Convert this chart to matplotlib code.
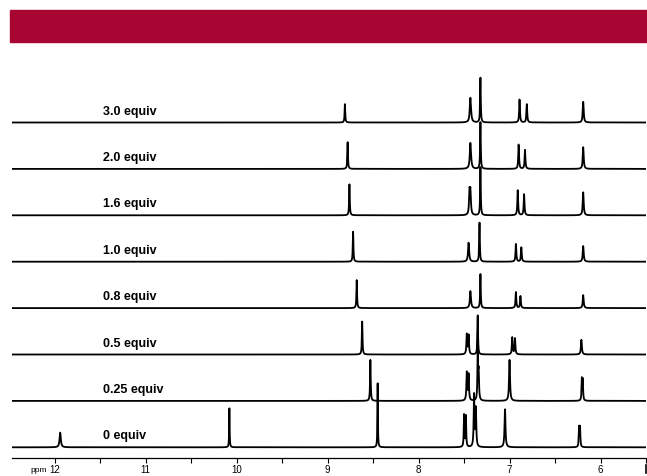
import numpy as np
import matplotlib.pyplot as plt
from matplotlib.patches import Rectangle
from matplotlib.lines import Line2D

# titration steps, bottom spectrum first
labels = ['0 equiv', '0.25 equiv', '0.5 equiv', '0.8 equiv',
          '1.0 equiv', '1.6 equiv', '2.0 equiv', '3.0 equiv']

# peak positions (ppm) for each spectrum
shifts = [
    [11.94, 10.08, 8.45, 7.50, 7.48, 7.39, 7.37, 7.05, 6.235, 6.225],
    [8.53, 7.47, 7.45, 7.35, 7.34, 7.00, 6.205, 6.195],
    [8.62, 7.47, 7.45, 7.35, 6.97, 6.94, 6.21],
    [8.68, 7.43, 7.32, 6.93, 6.88, 6.19],
    [8.72, 7.45, 7.33, 6.93, 6.87, 6.19],
    [8.76, 7.44, 7.43, 7.32, 6.91, 6.84, 6.19],
    [8.78, 7.43, 7.32, 6.90, 6.83, 6.19],
    [8.81, 7.43, 7.32, 6.89, 6.81, 6.19],
]
# peak intensities (arb. units)
heights = [
    [14.7, 39, 64, 32, 31, 52, 38, 38, 19, 19],
    [41, 28, 26, 48, 28, 41, 21, 20],
    [33, 20, 19, 39, 17, 16, 14.7],
    [28, 17, 34, 16, 12, 13],
    [30, 19, 39, 17.7, 14.3, 15.7],
    [31, 22, 22, 48, 25, 21, 23],
    [26.7, 26, 46.7, 24.3, 19, 21.7],
    [18.4, 24.7, 44.7, 23, 18.3, 20.7],
]
# half widths (ppm)
widths = [
    [0.008, 0.003, 0.003, 0.004, 0.004, 0.005, 0.005, 0.006, 0.004, 0.004],
    [0.004, 0.005, 0.005, 0.004, 0.005, 0.006, 0.004, 0.004],
    [0.004, 0.005, 0.005, 0.004, 0.005, 0.005, 0.006],
    [0.004, 0.007, 0.004, 0.005, 0.005, 0.006],
    [0.004, 0.007, 0.004, 0.005, 0.005, 0.006],
    [0.004, 0.006, 0.006, 0.004, 0.005, 0.005, 0.006],
    [0.004, 0.008, 0.004, 0.005, 0.005, 0.006],
    [0.004, 0.008, 0.004, 0.005, 0.005, 0.006],
]

major_ticks = [12, 11, 10, 9, 8, 7, 6]


def lorentz(x, x0, h, hw):
    return h * hw**2 / ((x - x0)**2 + hw**2)


plt.rcParams['font.family'] = ['Liberation Sans', 'DejaVu Sans']

W, H = 647, 476
fig = plt.figure(figsize=(W / 100, H / 100), dpi=100)

# red banner on top
fig.patches.append(Rectangle((10 / W, 1 - 42 / H), 1 - 10 / W, 32 / H,
                             transform=fig.transFigure, color='#a80533',
                             zorder=0))
# little end mark at the right of the scale
fig.lines.append(Line2D([645.5 / W, 645.5 / W], [3 / H, 11 / H],
                        transform=fig.transFigure, color='black', lw=1.2))

ax = fig.add_axes([12 / W, 18 / H, 634 / W, 398 / H])
ppm = np.linspace(5.4, 12.6, 40000)
step = 46.4

for i, lab in enumerate(labels):
    y = np.zeros_like(ppm)
    for x0, h, hw in zip(shifts[i], heights[i], widths[i]):
        y += lorentz(ppm, x0, h, hw)
    ax.plot(ppm, y + i * step, color='black', lw=1.3)
    ax.text(11.475, i * step + 11, lab, fontsize=9, fontweight='bold',
            ha='left', va='center')

ax.set_xlim(12.47, 5.534)
ax.set_ylim(-10.7, 387.3)
for s in ['top', 'left', 'right']:
    ax.spines[s].set_visible(False)
ax.spines['bottom'].set_linewidth(0.9)
ax.set_yticks([])
ax.set_xticks(major_ticks)
ax.set_xticklabels([str(t) for t in major_ticks])
ax.set_xticks(np.arange(5.5, 12.5, 1.0), minor=True)
ax.tick_params(axis='x', which='both', direction='out', length=3.3,
               width=0.8, labelsize=7, pad=1.5)
ax.text(12.09, -23.5, 'ppm', fontsize=6, ha='right', va='center',
        clip_on=False)

fig.savefig('out.png', dpi=100)
